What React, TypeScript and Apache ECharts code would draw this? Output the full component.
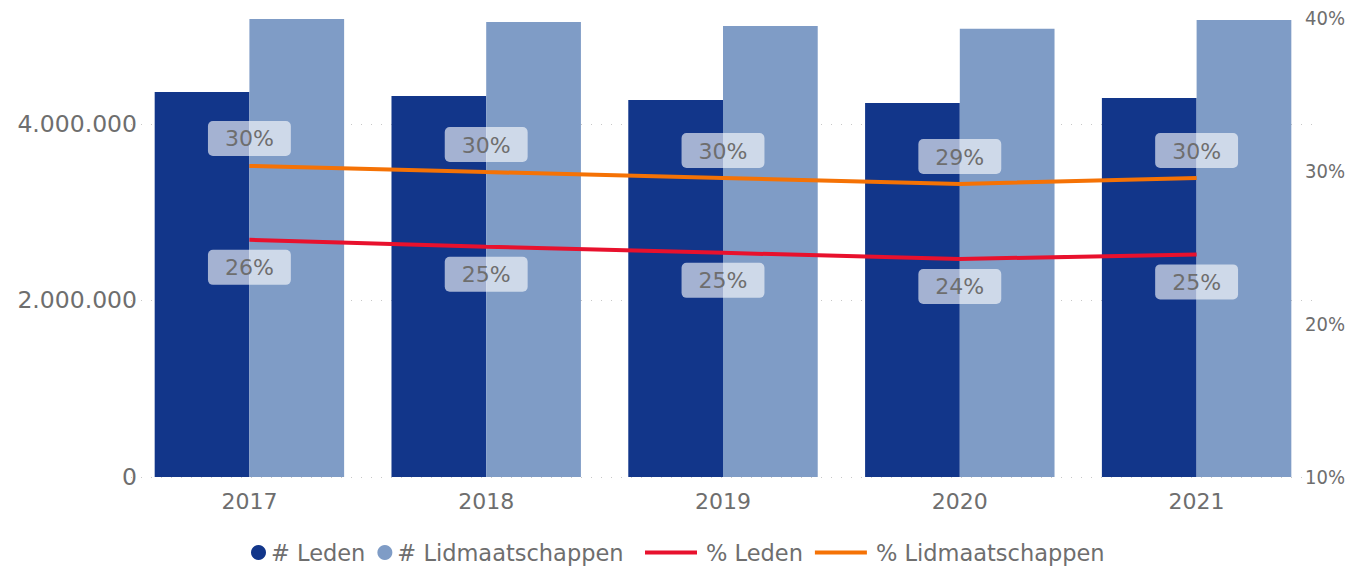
import React, { useEffect, useRef } from "react";
import * as echarts from "echarts";

const years = ["2017", "2018", "2019", "2020", "2021"];
const leden = [4363000, 4317000, 4272000, 4238000, 4295000];
const lidmaatschappen = [5190000, 5156000, 5110000, 5077000, 5178000];
const pctLeden = [25.5, 25.05, 24.65, 24.25, 24.55];
const pctLidmaatschappen = [30.33, 29.93, 29.54, 29.15, 29.54];

const FONT = "DejaVu Sans";
const TXT = "#6e6e6e";
const LINE_ICON = "path://M0,0 L50,0 L50,4 L0,4 Z";

function fmtThousands(v: number) {
  return String(Math.round(v)).replace(/\B(?=(\d{3})+(?!\d))/g, ".");
}

export default function App() {
  const ref = useRef<HTMLDivElement>(null);
  useEffect(() => {
    if (!ref.current) return;
    const chart = echarts.init(ref.current, undefined, { renderer: "svg" });
    const labelBox = (pos: "top" | "bottom") => ({
      show: true,
      position: pos,
      distance: 10,
      formatter: (p: any) => Math.round(p.value) + "%",
      color: TXT,
      fontFamily: FONT,
      fontSize: 22,
      backgroundColor: "rgba(255,255,255,0.62)",
      borderRadius: 5,
      padding: [7, 17, 6, 17],
    });
    const legendText = { color: TXT, fontSize: 22.5, fontFamily: FONT };
    chart.setOption({
      animation: false,
      textStyle: { fontFamily: FONT },
      grid: { left: 131, right: 32, top: 18, bottom: 89, containLabel: false },
      legend: [
        {
          top: 536,
          left: 246,
          itemWidth: 15,
          itemHeight: 15,
          itemGap: 12,
          textStyle: { ...legendText, padding: [0, 0, 0, 0] },
          data: [
            { name: "# Leden", icon: "circle" },
            { name: "# Lidmaatschappen", icon: "circle" },
          ],
        },
        {
          top: 536,
          left: 640,
          itemWidth: 52,
          itemHeight: 15,
          itemGap: 12,
          textStyle: { ...legendText, padding: [0, 0, 0, 4] },
          data: [
            { name: "% Leden", icon: LINE_ICON },
            { name: "% Lidmaatschappen", icon: LINE_ICON },
          ],
        },
      ],
      xAxis: {
        type: "category",
        data: years,
        axisLine: { show: false },
        axisTick: { show: false },
        axisLabel: { color: TXT, fontSize: 22, fontFamily: FONT, margin: 13 },
      },
      yAxis: [
        {
          type: "value",
          min: 0,
          max: 5200000,
          interval: 2000000,
          axisLabel: {
            color: TXT,
            fontSize: 23.5,
            fontFamily: FONT,
            margin: -6,
            showMaxLabel: false,
            formatter: (v: number) => fmtThousands(v),
          },
          axisLine: { show: false },
          axisTick: { show: false },
          splitLine: {
            show: true,
            showMaxLine: false,
            lineStyle: { color: "#c8c8c8", type: [1, 9], width: 1 },
          },
        },
        {
          type: "value",
          min: 10,
          max: 40,
          interval: 10,
          position: "right",
          axisLabel: {
            color: TXT,
            fontSize: 20,
            fontFamily: "'Liberation Sans Narrow', 'DejaVu Sans Condensed', Roboto, sans-serif",
            margin: -10,
            formatter: "{value}%",
          },
          axisLine: { show: false },
          axisTick: { show: false },
          splitLine: { show: false },
        },
      ],
      series: [
        {
          name: "# Leden",
          type: "bar",
          data: leden,
          barGap: "0%",
          barCategoryGap: "20%",
          itemStyle: { color: "#12368a" },
        },
        {
          name: "# Lidmaatschappen",
          type: "bar",
          data: lidmaatschappen,
          itemStyle: { color: "#7f9cc6" },
        },
        {
          name: "% Leden",
          type: "line",
          yAxisIndex: 1,
          data: pctLeden,
          symbol: "circle",
          symbolSize: 0.01,
          showSymbol: true,
          lineStyle: { color: "#e8112d", width: 4 },
          itemStyle: { color: "#e8112d" },
          label: labelBox("bottom"),
          z: 5,
        },
        {
          name: "% Lidmaatschappen",
          type: "line",
          yAxisIndex: 1,
          data: pctLidmaatschappen,
          symbol: "circle",
          symbolSize: 0.01,
          showSymbol: true,
          lineStyle: { color: "#f57205", width: 4 },
          itemStyle: { color: "#f57205" },
          label: labelBox("top"),
          z: 5,
        },
      ],
    });
    return () => chart.dispose();
  }, []);
  return (
    <div
      ref={ref}
      style={{ position: "absolute", left: 0, top: 0, width: 1348, height: 566 }}
    />
  );
}
